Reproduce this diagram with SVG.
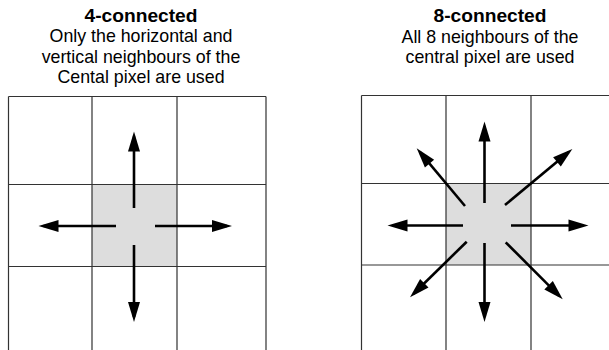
<svg xmlns="http://www.w3.org/2000/svg" width="609" height="350" viewBox="0 0 609 350">
<style>
.title{font-family:"Liberation Sans",Arial,sans-serif;font-weight:bold;font-size:19.2px;fill:#000;text-anchor:middle}
.sub{font-family:"Liberation Sans",Arial,sans-serif;font-size:17.8px;fill:#000;text-anchor:middle}
.grid{stroke:#333;stroke-width:1.2;fill:none}
.center{fill:#dddddd;stroke:none}
.arr{stroke:#000;stroke-width:2.6;fill:none;marker-end:url(#ah)}
</style>
<defs>
<marker id="ah" markerUnits="userSpaceOnUse" markerWidth="20" markerHeight="12" refX="15" refY="6" orient="auto" overflow="visible">
<path d="M0,0 L20,6 L0,12 z" fill="#000"/>
</marker>
</defs>
<rect width="609" height="350" fill="#fff"/>
<g id="title4">
<text class="title" x="141" y="22">4-connected</text>
<text class="sub" x="141" y="42">Only the horizontal and</text>
<text class="sub" x="141" y="62.5">vertical neighbours of the</text>
<text class="sub" x="141" y="83">Cental pixel are used</text>
</g>
<g id="title8">
<text class="title" x="490" y="22">8-connected</text>
<text class="sub" x="490" y="42.5">All 8 neighbours of the</text>
<text class="sub" x="490" y="63">central pixel are used</text>
</g>
<g id="grid4">
<rect class="center" x="92" y="184.5" width="85" height="82"/>
<path class="grid" d="M8.5,96.5 H266 M8.5,184.5 H266 M8.5,266.5 H266 M8.5,96.5 V350 M92,96.5 V350 M177,96.5 V350 M266,96.5 V350"/>
</g>
<g id="grid8">
<rect class="center" x="446" y="183.5" width="85" height="81.5"/>
<path class="grid" d="M361.5,95.5 H609 M361.5,183.5 H609 M361.5,265 H609 M361.5,95.5 V350 M446,95.5 V350 M531,95.5 V350"/>
</g>
<g id="connectors">
<line class="arr" x1="134" y1="208" x2="134" y2="136.5"/>
<line class="arr" x1="134" y1="245" x2="134" y2="317"/>
<line class="arr" x1="116" y1="226" x2="43.5" y2="226"/>
<line class="arr" x1="155" y1="226" x2="227" y2="226"/>
<line class="arr" x1="484.5" y1="203" x2="484.5" y2="126.5"/>
<line class="arr" x1="484.5" y1="243" x2="484.5" y2="317"/>
<line class="arr" x1="463" y1="225.5" x2="392.5" y2="225.5"/>
<line class="arr" x1="511" y1="225.5" x2="583.5" y2="225.5"/>
<line class="arr" x1="465" y1="206" x2="419.9" y2="152.1"/>
<line class="arr" x1="505" y1="205" x2="568.5" y2="152.2"/>
<line class="arr" x1="466.7" y1="241.7" x2="413.6" y2="293.8"/>
<line class="arr" x1="505.7" y1="242.3" x2="559.2" y2="295.8"/>
</g>
</svg>
